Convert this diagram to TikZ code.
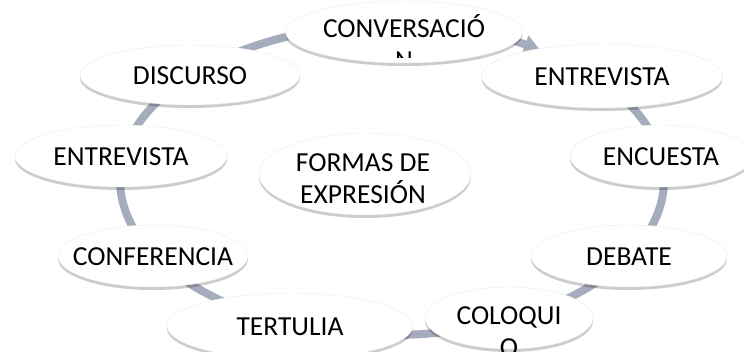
\documentclass[tikz,border=0pt]{standalone}
\usepackage{fontspec}
\newfontfamily\carlito{Carlito}
\usetikzlibrary{shapes.geometric,shadows,arrows.meta}
\definecolor{aro}{RGB}{165,172,190}
\tikzset{
  forma/.style={ellipse, fill=white, draw=black!8, inner sep=0pt,
    drop shadow={shadow xshift=0pt, shadow yshift=-3pt, opacity=0.2, fill=black}},
  rotulo/.style={font=\carlito\fontsize{27.5}{32}\selectfont, align=center, anchor=base, inner sep=0pt}
}
\begin{document}
\begin{tikzpicture}[x=1pt, y=-1pt]
    \clip (0,0) rectangle (744,351);

    % Anillo
    \draw[aro, line width=8pt, -{Triangle[width=18pt,length=16pt]}]
        (392,180) ++(-53:272 and 155) arc[start angle=-53, end angle=303, x radius=272, y radius=155];

    % Elipses
    \node[forma, minimum width=237, minimum height=62] (conv) at (404,32) {};
    \node[forma, minimum width=220, minimum height=60] (disc) at (190,75) {};
    \node[forma, minimum width=241, minimum height=64] (entr) at (602,76) {};
    \node[forma, minimum width=212, minimum height=62] (entl) at (121,156) {};
    \node[forma, minimum width=182, minimum height=62] (encu) at (661,156) {};
    \node[forma, minimum width=212, minimum height=82] (formas) at (365,174) {};
    \node[forma, minimum width=190, minimum height=62] (conf) at (153,256) {};
    \node[forma, minimum width=196, minimum height=62] (deba) at (629,256) {};
    \node[forma, minimum width=246, minimum height=66] (tert) at (290,326) {};
    \node[forma, minimum width=168, minimum height=62] (colo) at (509,318) {};

    % Textos (en dos lineas la base es la de la ultima)
    \begin{scope}
        \clip (0,0) rectangle (744,57);
        \node[rotulo] (conv-t) at (404,69.5) {CONVERSACIÓ\\N};
    \end{scope}
    \node[rotulo] (disc-t) at (190,84.5) {DISCURSO};
    \node[rotulo] (entr-t) at (602,85) {ENTREVISTA};
    \node[rotulo] (entl-t) at (121,165) {ENTREVISTA};
    \node[rotulo] (encu-t) at (661,165) {ENCUESTA};
    \node[rotulo] (formas-t) at (363,203.5) {FORMAS DE\\EXPRESIÓN};
    \node[rotulo] (conf-t) at (153,265) {CONFERENCIA};
    \node[rotulo] (deba-t) at (629,265) {DEBATE};
    \node[rotulo] (tert-t) at (290,335) {TERTULIA};
    \node[rotulo] (colo-t) at (509,356.5) {COLOQUI\\O};

\end{tikzpicture}
\end{document}
